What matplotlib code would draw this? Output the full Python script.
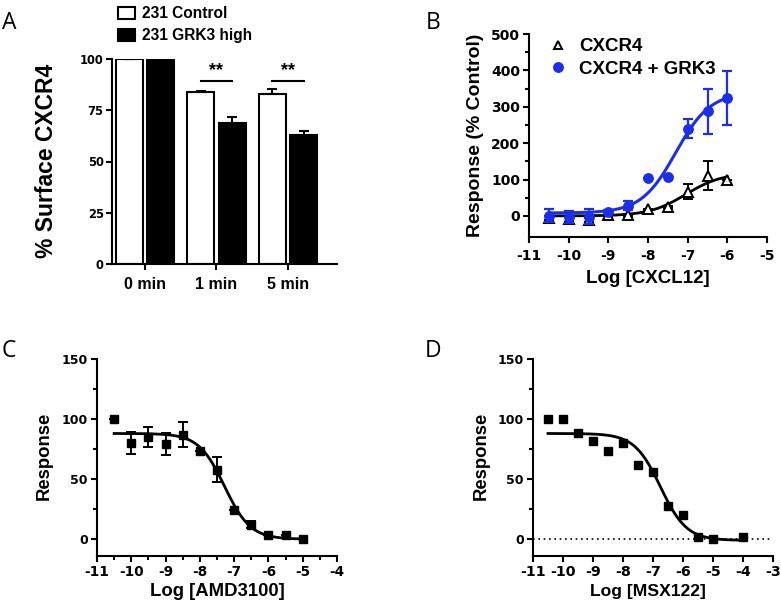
import numpy as np
import matplotlib
matplotlib.use("Agg")
import matplotlib.pyplot as plt
from matplotlib.lines import Line2D

# ---------------- data ----------------
# Panel A
a_groups = ["0 min", "1 min", "5 min"]
a_control = [100, 84, 83]
a_control_err = [0, 0.6, 2.6]
a_grk3 = [100, 69, 63]
a_grk3_err = [0, 2.7, 1.8]
a_sig_y = 89.5

# Panel B
b_logx = [-10.5, -10, -9.5, -9, -8.5, -8, -7.5, -7, -6.5, -6]
b_cxcr4 = [-5, -8, -11, 3, 3, 18, 24, 67, 111, 99]
b_cxcr4_err = [5, 8, 6, 2, 3, 2, 3, 21, 40, 0]
b_grk3 = [0, -3, -2, 12, 28, 103, 106, 240, 288, 325]
b_grk3_err = [18, 17, 20, 3, 12, 0, 0, 27, 62, 74]
# fitted curve parameters (bottom, top, logEC50, hill)
b_cxcr4_fit = (0, 118, -7.05, 0.95)
b_grk3_fit = (8, 340, -7.3, 1.0)

# Panel C
c_logx = [-10.5, -10, -9.5, -9, -8.5, -8, -7.5, -7, -6.5, -6, -5.5, -5]
c_resp = [100, 80, 85, 79, 87, 73, 58, 24, 12, 3.5, 3.5, 0]
c_err = [0, 9, 8.5, 9, 10.5, 0, 10.5, 0, 3, 0, 0, 0]
c_fit = (0, 88, -7.28, 1.15)

# Panel D
d_logx = [-10.5, -10, -9.5, -9, -8.5, -8, -7.5, -7, -6.5, -6, -5.5, -5, -4]
d_resp = [100, 100, 88, 82, 73, 80, 62, 56, 28, 20, 2, 0, 1.5]
d_fit = (-1, 88, -6.75, 1.0)


def hill_up(x, p):
    b, t, c, h = p
    return b + (t - b) / (1 + 10 ** (h * (c - x)))


def hill_down(x, p):
    b, t, c, h = p
    return b + (t - b) / (1 + 10 ** (h * (x - c)))


# ---------------- figure ----------------
W, H = 781, 604
fig = plt.figure(figsize=(W / 100, H / 100), dpi=100)
plt.rcParams["font.family"] = ["Liberation Sans", "DejaVu Sans"]
plt.rcParams["font.weight"] = "bold"

LW = 1.5
BLUE = "#1c2ee6"


def px_axes(x0, ytop, x1, ybot):
    return fig.add_axes([x0 / W, 1 - ybot / H, (x1 - x0) / W, (ybot - ytop) / H])


def style(ax):
    for s in ["top", "right"]:
        ax.spines[s].set_visible(False)
    for s in ["left", "bottom"]:
        ax.spines[s].set_linewidth(LW)
    ax.tick_params(which="major", direction="out", length=4.5, width=LW, pad=2)
    ax.tick_params(which="minor", direction="out", length=3, width=LW)


def ftext(x, y, s, **kw):
    return fig.text(x / W, 1 - y / H, s, **kw)


tick_font = dict(fontfamily="DejaVu Sans", fontweight="bold")

# ---------- Panel A ----------
axA = px_axes(112, 59, 337, 264)
style(axA)
xg = np.arange(len(a_groups))
off, bw = 0.222, 0.378
bc = axA.bar(xg - off, a_control, bw, color="white", edgecolor="black", linewidth=LW,
             label="231 Control", zorder=2)
bg = axA.bar(xg + off, a_grk3, bw, color="black", edgecolor="black", linewidth=LW,
             label="231 GRK3 high", zorder=2)
axA.errorbar(xg - off, a_control, yerr=[np.zeros(3), a_control_err], fmt="none",
             ecolor="black", elinewidth=LW, capsize=3.3, capthick=LW, zorder=3)
axA.errorbar(xg + off, a_grk3, yerr=[np.zeros(3), a_grk3_err], fmt="none",
             ecolor="black", elinewidth=LW, capsize=3.3, capthick=LW, zorder=3)
for g in [1, 2]:
    axA.plot([g - off, g + off], [a_sig_y, a_sig_y], color="black", lw=LW)
    axA.text(g, a_sig_y + 0.8, "**", ha="center", va="bottom", fontsize=13,
             fontweight="bold")
axA.set_xlim(-0.46, 2.685)
axA.set_ylim(0, 100)
axA.set_yticks([0, 25, 50, 75, 100], ["0", "25", "50", "75", "100"], fontsize=8.3, **tick_font)
axA.set_xticks(xg, a_groups, fontsize=11.5, fontweight="bold")
axA.tick_params(axis="x", pad=5)
axA.tick_params(axis="y", pad=1.5)
axA.spines["left"].set_bounds(0, 100)
legA = axA.legend(handles=[bc, bg], loc="upper left", frameon=False,
                  bbox_to_anchor=(118 / W, 1 - 6 / H), bbox_transform=fig.transFigure,
                  borderpad=0, borderaxespad=0, handlelength=1.1, handleheight=0.8,
                  handletextpad=0.45, labelspacing=0.45,
                  prop=dict(family="Liberation Sans", weight="bold", size=11.2))
ftext(47, 161, "% Surface CXCR4", rotation=90, ha="center", va="center",
      fontsize=16.5, fontweight="bold")

# ---------- Panel B ----------
axB = px_axes(529, 34, 767, 237)
style(axB)
xs = np.linspace(-10.5, -6, 200)
axB.plot(xs, hill_up(xs, b_cxcr4_fit), color="black", lw=2, zorder=2)
axB.plot(xs, hill_up(xs, b_grk3_fit), color=BLUE, lw=2.2, zorder=2)
axB.errorbar(b_logx, b_cxcr4, yerr=b_cxcr4_err, fmt="^", ms=6.5, mfc="white", mec="black",
             mew=1.4, ecolor="black", elinewidth=1.4, capsize=3.6, capthick=1.4, zorder=3)
axB.errorbar(b_logx, b_grk3, yerr=b_grk3_err, fmt="o", ms=6.8, mfc=BLUE, mec=BLUE,
             ecolor=BLUE, elinewidth=1.6, capsize=3.6, capthick=1.6, zorder=4)
axB.set_xlim(-11, -5)
axB.set_ylim(-58, 500)
axB.set_xticks(np.arange(-11, -4), [str(v) for v in range(-11, -4)], fontsize=10, **tick_font)
axB.set_yticks(np.arange(0, 501, 100), [str(v) for v in range(0, 501, 100)], fontsize=10,
               **tick_font)
axB.set_yticks(np.arange(50, 500, 100), minor=True)
axB.tick_params(axis="x", pad=4.5)
axB.tick_params(axis="y", pad=2)
hB = [Line2D([], [], ls="none", marker="^", ms=6, mfc="white", mec="black", mew=1.4),
      Line2D([], [], ls="none", marker="o", ms=6.8, mfc=BLUE, mec=BLUE)]
axB.legend(hB, ["CXCR4", "CXCR4 + GRK3"], loc="upper left", frameon=False,
           bbox_to_anchor=(549 / W, 1 - 38 / H), bbox_transform=fig.transFigure,
           borderpad=0, borderaxespad=0, handlelength=1.0, handletextpad=0.6,
           labelspacing=0.3, prop=dict(family="Liberation Sans", weight="bold", size=13.5))
ftext(475, 135, "Response (% Control)", rotation=90, ha="center", va="center",
      fontsize=14, fontweight="bold")
ftext(648, 283, "Log [CXCL12]", ha="center", va="baseline", fontsize=13.5,
      fontweight="bold")

# ---------- Panel C ----------
axC = px_axes(97, 359, 337, 556)
style(axC)
xs = np.linspace(-10.5, -5, 200)
axC.plot(xs, hill_down(xs, c_fit), color="black", lw=2, zorder=2)
axC.errorbar(c_logx, c_resp, yerr=c_err, fmt="s", ms=5.6, mfc="black", mec="black",
             ecolor="black", elinewidth=1.4, capsize=3.6, capthick=1.4, zorder=3)
axC.set_xlim(-11, -4)
axC.set_ylim(-14, 150)
axC.set_xticks(np.arange(-11, -3), [str(v) for v in range(-11, -3)], fontsize=9.8, **tick_font)
axC.set_xticks(np.arange(-10.5, -4, 1.0), minor=True)
axC.set_yticks([0, 50, 100, 150], ["0", "50", "100", "150"], fontsize=9, **tick_font)
axC.set_yticks([25, 75, 125], minor=True)
axC.tick_params(axis="x", pad=1.8)
ftext(44, 456, "Response", rotation=90, ha="center", va="center", fontsize=13.3,
      fontweight="bold")
ftext(217, 596, "Log [AMD3100]", ha="center", va="baseline", fontsize=13.3,
      fontweight="bold")

# ---------- Panel D ----------
axD = px_axes(533, 359, 773, 556)
style(axD)
axD.axhline(0, color="black", lw=1.2, ls=(0, (1, 2.2)), zorder=1)
xs = np.linspace(-10.5, -4, 200)
axD.plot(xs, hill_down(xs, d_fit), color="black", lw=2, zorder=2)
axD.plot(d_logx, d_resp, "s", ms=5.6, color="black", zorder=3)
axD.set_xlim(-11, -3)
axD.set_ylim(-14, 150)
axD.set_xticks(np.arange(-11, -2), [str(v) for v in range(-11, -2)], fontsize=10.3, **tick_font)
axD.set_yticks([0, 50, 100, 150], ["0", "50", "100", "150"], fontsize=9, **tick_font)
axD.set_yticks([25, 75, 125], minor=True)
axD.tick_params(axis="x", pad=1.8)
ftext(481, 456, "Response", rotation=90, ha="center", va="center", fontsize=13.3,
      fontweight="bold")
ftext(648, 596, "Log [MSX122]", ha="center", va="baseline", fontsize=12.6,
      fontweight="bold")

# ---------- panel letters ----------
letter = dict(fontsize=16.5, fontweight="normal", fontfamily="Open Sans", va="baseline",
              ha="left")
ftext(2, 29, "A", **letter)
ftext(426, 29, "B", **letter)
ftext(2, 357, "C", **letter)
ftext(425, 357, "D", **letter)

fig.savefig("out.png", dpi=100)
